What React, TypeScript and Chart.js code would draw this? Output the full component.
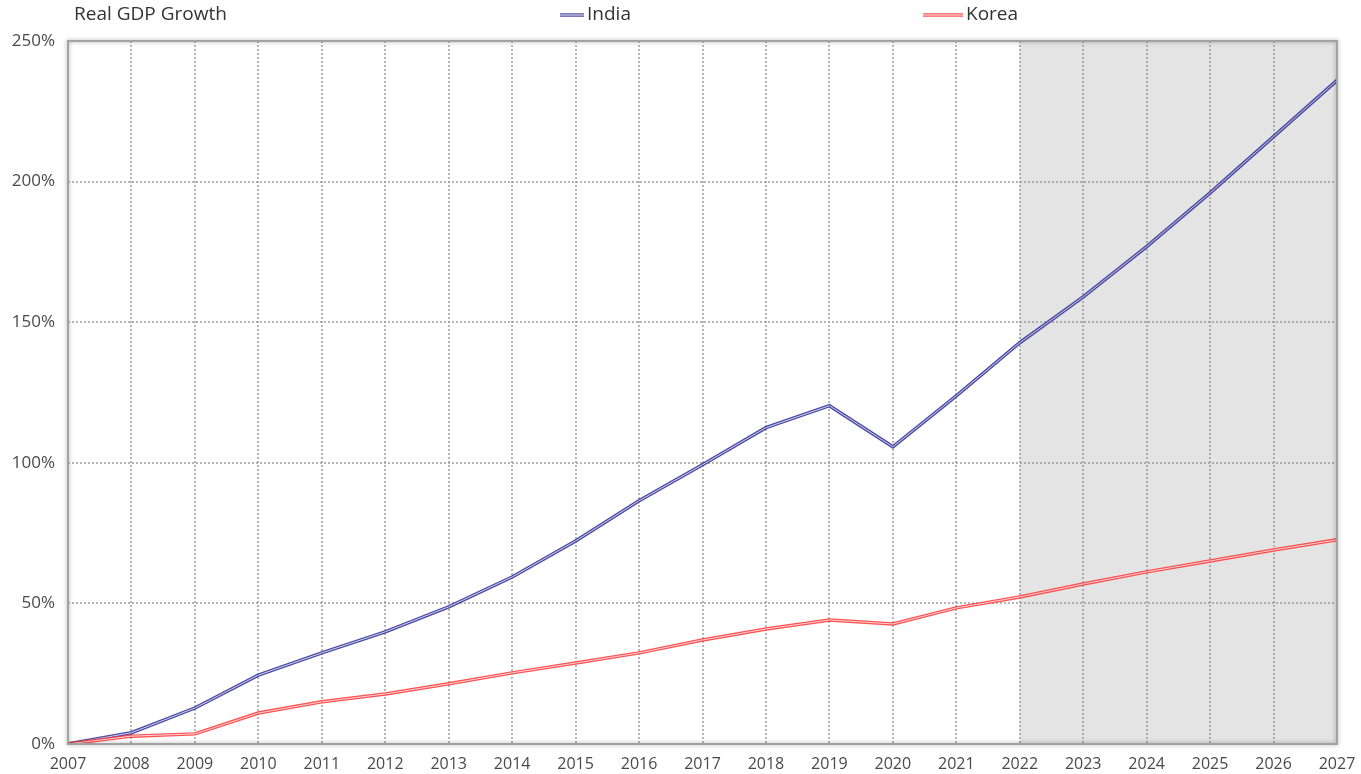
import React, { useEffect, useRef } from "react";
import { Chart, registerables } from "chart.js";

Chart.register(...registerables);

const years = [
  "2007", "2008", "2009", "2010", "2011", "2012", "2013", "2014", "2015", "2016",
  "2017", "2018", "2019", "2020", "2021", "2022", "2023", "2024", "2025", "2026", "2027",
];
const india = [0, 4, 12.8, 24.5, 32.4, 39.9, 48.8, 59.4, 72.2, 86.5, 99.3, 112.5, 120.3, 105.7, 123.8, 142.7, 159, 176.9, 196, 216, 236];
const korea = [0, 2.8, 3.6, 11, 15, 17.8, 21.4, 25.3, 28.8, 32.4, 37, 40.9, 44.1, 42.7, 48.4, 52.3, 56.9, 61.2, 65.1, 69, 72.6];
const forecastStart = "2022";
const forecastEnd = "2027";
const titleText = "Real GDP Growth";
const seriesNames = ["India", "Korea"];
const yTicks = [0, 50, 100, 150, 200, 250];

const FONT = "'Open Sans', sans-serif";
const INDIA_COLOR = "rgba(45,45,150,0.85)";
const KOREA_COLOR = "rgba(255,50,50,0.85)";
const GRID_COLOR = "rgba(150,150,150,0.7)";

const decorPlugin = {
  id: "decor",
  beforeDraw(chart: any) {
    const { ctx, chartArea, scales } = chart;
    const x = scales.x;
    const x0 = x.getPixelForValue(years.indexOf(forecastStart));
    const x1 = x.getPixelForValue(years.indexOf(forecastEnd));
    ctx.save();
    ctx.fillStyle = "#e4e4e4";
    ctx.fillRect(x0, chartArea.top, x1 - x0, chartArea.bottom - chartArea.top);
    ctx.restore();
  },
  afterDraw(chart: any) {
    const { ctx, chartArea } = chart;
    ctx.save();
    ctx.shadowColor = "rgba(0,0,0,0.35)";
    ctx.shadowBlur = 4;
    ctx.strokeStyle = "#a2a2a2";
    ctx.lineWidth = 2;
    ctx.strokeRect(chartArea.left, chartArea.top, chartArea.right - chartArea.left, chartArea.bottom - chartArea.top);
    ctx.restore();

    // title
    ctx.save();
    ctx.fillStyle = "#333";
    ctx.font = `19px ${FONT}`;
    ctx.textBaseline = "middle";
    ctx.textAlign = "left";
    ctx.fillText(titleText, 74, 15);

    // legend
    const items = [
      { name: seriesNames[0], color: INDIA_COLOR, x0: 560, x1: 584 },
      { name: seriesNames[1], color: KOREA_COLOR, x0: 923, x1: 963 },
    ];
    items.forEach((it) => {
      ctx.strokeStyle = it.color;
      ctx.lineWidth = 3.5;
      ctx.beginPath();
      ctx.moveTo(it.x0, 15);
      ctx.lineTo(it.x1, 15);
      ctx.stroke();
      ctx.strokeStyle = "rgba(255,255,255,0.9)";
      ctx.lineWidth = 1;
      ctx.beginPath();
      ctx.moveTo(it.x0, 15);
      ctx.lineTo(it.x1, 15);
      ctx.stroke();
      ctx.fillStyle = "#333";
      ctx.fillText(it.name, it.x1 + 3, 15);
    });
    ctx.restore();
  },
};

export default function App() {
  const ref = useRef<HTMLCanvasElement>(null);
  useEffect(() => {
    document.body.style.margin = "0";
    const chart = new Chart(ref.current!, {
      type: "line",
      data: {
        labels: years,
        datasets: [
          { label: "India-outer", data: india, borderColor: INDIA_COLOR, borderWidth: 3.5, pointRadius: 0, tension: 0, order: 3 },
          { label: "India-inner", data: india, borderColor: "rgba(255,255,255,0.75)", borderWidth: 1, pointRadius: 0, tension: 0, order: 2 },
          { label: "Korea-outer", data: korea, borderColor: KOREA_COLOR, borderWidth: 3.5, pointRadius: 0, tension: 0, order: 1 },
          { label: "Korea-inner", data: korea, borderColor: "rgba(255,255,255,0.75)", borderWidth: 1, pointRadius: 0, tension: 0, order: 0 },
        ],
      },
      options: {
        animation: false,
        responsive: false,
        maintainAspectRatio: false,
        layout: { padding: { top: 41, right: 24, left: 0, bottom: 0 } },
        plugins: {
          legend: { display: false },
          title: { display: false },
          tooltip: { enabled: false },
        },
        scales: {
          x: {
            type: "category",
            offset: false,
            grid: {
              color: GRID_COLOR,
              lineWidth: 2,
              drawTicks: true,
              tickLength: 8,
              tickColor: "rgba(0,0,0,0)",
            },
            border: { display: false, dash: [2, 2] },
            ticks: {
              color: "#4a4a4a",
              font: { family: FONT, size: 16 },
              padding: 3,
              maxRotation: 0,
              autoSkip: false,
            },
            afterFit(scale: any) {
              scale.height = 30;
            },
          },
          y: {
            min: 0,
            max: 250,
            afterBuildTicks(scale: any) {
              scale.ticks = yTicks.map((v) => ({ value: v }));
            },
            grid: {
              color: GRID_COLOR,
              lineWidth: 2,
              drawTicks: false,
            },
            border: { display: false, dash: [2, 2] },
            ticks: {
              color: "#4a4a4a",
              font: { family: FONT, size: 17 },
              padding: 13,
              callback: (v: any) => `${v}%`,
            },
            afterFit(scale: any) {
              scale.width = 68;
            },
          },
        },
      },
      plugins: [decorPlugin],
    });
    return () => chart.destroy();
  }, []);
  return (
    <div style={{ width: 1361, height: 774 }}>
      <canvas ref={ref} width={1361} height={774} style={{ display: "block" }} />
    </div>
  );
}
